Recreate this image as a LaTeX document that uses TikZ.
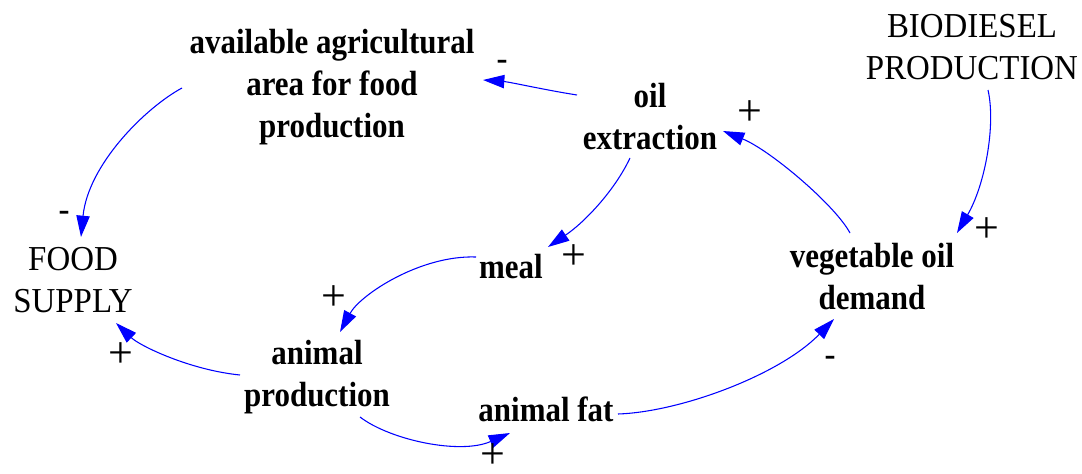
\documentclass[tikz,border=0pt]{standalone}
\usepackage{fontspec}
\setmainfont{Liberation Serif}
\newfontfamily\lbl{Liberation Serif}[FakeStretch=0.885]
\newfontfamily\rgl{Liberation Serif}[FakeStretch=0.94]
\usetikzlibrary{arrows.meta}
\definecolor{linkblue}{RGB}{0,0,255}
\begin{document}
\begin{tikzpicture}[x=0.75pt,y=-0.75pt,
  vbl/.style={inner sep=0pt, align=center, anchor=north, font=\lbl\bfseries\fontsize{26.25pt}{31.5pt}\selectfont},
  vrg/.style={inner sep=0pt, align=center, anchor=north, font=\rgl\fontsize{26.25pt}{31.5pt}\selectfont},
  signplus/.style={inner sep=0pt, font=\fontsize{33pt}{34pt}\selectfont},
  signminus/.style={inner sep=0pt, anchor=base, font=\bfseries\fontsize{24.75pt}{30pt}\selectfont},
  link/.style={draw=linkblue, line width=0.8pt, -{Triangle[length=16pt,width=10pt]}}
]
\fill[white] (0,0) rectangle (1082,474);
\useasboundingbox (0,0) rectangle (1082,474);

\node[vbl] (avail) at (332,29) {available agricultural\\area for food\\production};
\node[vbl] (oil) at (650,83) {oil\\extraction};
\node[vrg] (bio) at (972,14) {BIODIESEL\\PRODUCTION};
\node[vrg] (food) at (73,247) {FOOD\\SUPPLY};
\node[vbl] (meal) at (511,254) {meal};
\node[vbl] (veg) at (872,243) {vegetable oil\\demand};
\node[vbl] (animal) at (317,340) {animal\\production};
\node[vbl] (fat) at (546,397) {animal fat};

\draw[link] ([shift={(-150,59)}]avail.north) .. controls (145,108) and (88,165) .. ([shift={(8,-10)}]food.north);
\draw[link] ([shift={(-73,12)}]oil.north) .. controls (545,90) and (510,82) .. ([shift={(151,51)}]avail.north);
\draw[link] ([shift={(-22,-10)}]veg.north) .. controls (835,205) and (770,150) .. ([shift={(73,48)}]oil.north);
\draw[link] ([shift={(16,76)}]bio.north) .. controls (996,125) and (985,185) .. ([shift={(85,-10)}]veg.north);
\draw[link] ([shift={(-20,75)}]oil.north) .. controls (615,190) and (585,222) .. ([shift={(37,-7)}]meal.north);
\draw[link] ([shift={(-35,3)}]meal.north) .. controls (420,255) and (360,295) .. ([shift={(23,-8)}]animal.north);
\draw[link] ([shift={(-77,35)}]animal.north) .. controls (190,370) and (140,346) .. ([shift={(43,76)}]food.north);
\draw[link] ([shift={(43,77)}]animal.north) .. controls (390,440) and (460,455) .. ([shift={(-36,36)}]fat.north);
\draw[link] ([shift={(72,17)}]fat.north) .. controls (680,412) and (780,375) .. ([shift={(-38,76)}]veg.north);

\node[signplus] (p1) at (750,113) {+};
\node[signplus] (p2) at (987,230) {+};
\node[signplus] (p3) at (574,257) {+};
\node[signplus] (p4) at (334,298) {+};
\node[signplus] (p5) at (121,355) {+};
\node[signplus] (p6) at (493,456) {+};
\node[signminus] (m1) at (502,70) {-};
\node[signminus] (m2) at (64,220) {-};
\node[signminus] (m3) at (830,365) {-};
\end{tikzpicture}
\end{document}
